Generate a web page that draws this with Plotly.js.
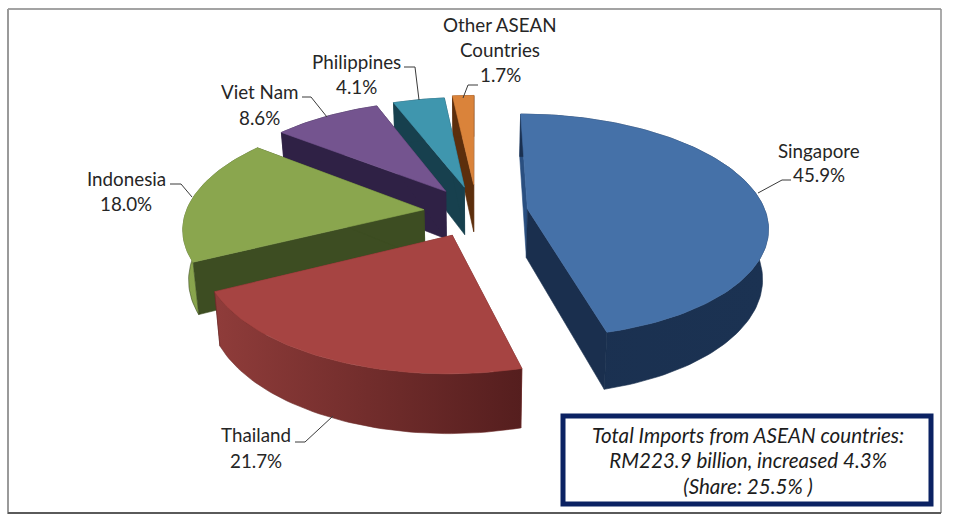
<!DOCTYPE html>
<html>
<head>
<meta charset="utf-8">
<script src="https://cdn.plot.ly/plotly-3.0.1.min.js"></script>
<style>html,body{margin:0;padding:0;background:#fff}#chart{width:960px;height:517px}</style>
</head>
<body>
<div id="chart"></div>
<script>
// ---- data ----
var categories = ['Singapore', 'Thailand', 'Indonesia', 'Viet Nam', 'Philippines', 'Other ASEAN Countries'];
var shares = [45.9, 21.7, 18.0, 8.6, 4.1, 1.7];
var noteLines = ['Total Imports from ASEAN countries:', 'RM223.9 billion, increased 4.3%', '(Share: 25.5% )'];

// ---- styles ----
var topColors = ['#4571a8', '#a64442', '#8aa64e', '#74548f', '#3f96ae', '#da833a'];
var wallColors = ['#1a2f4e', '#6b2a29', '#3d4d22', '#2f2145', '#17404e', '#5c2e0c'];
var arcGradients = [
  ['#1a3050', '#1b3252'], ['#8f3c3a', '#551e1e'], ['#8aa64e', '#7d9845'],
  ['#2f2145', '#2f2145'], ['#17404e', '#17404e'], ['#5c2e0c', '#5c2e0c']
];
var pulls = [0.215, 0.225, 0.21, 0.24, 0.24, 0.26];
var sideNudge = [0.008, 0, -0.006, 0.016, 0.01, 0.008];

// ---- 3D projection settings ----
var cx = 475, cy = 212, rx = 238, ry = 110, persp = 0.15, depth = 50, lowerScale = 0.98;

function project(X, Y, lower) {
  var s = 1 / (1 - persp * Y);
  var px = rx * X * s, py = ry * Y * s;
  if (lower) { px *= lowerScale; py += depth * s * 0.98; }
  return [cx + px, cy + py];
}
function ringPoint(offX, offY, theta, lower) {
  return project(offX + Math.sin(theta), offY - Math.cos(theta), lower);
}
function polyTrace(pts, color, grad) {
  var t = {
    type: 'scatter', mode: 'lines', x: pts.map(function (p) { return p[0]; }), y: pts.map(function (p) { return p[1]; }),
    fill: 'toself', line: { width: 0.6, color: color }, hoverinfo: 'skip', showlegend: false
  };
  if (grad) {
    t.fillcolor = grad[0];
    t.fillgradient = { type: 'horizontal', colorscale: [[0, grad[0]], [1, grad[1]]] };
  } else {
    t.fillcolor = color;
  }
  return t;
}

var total = shares.reduce(function (a, b) { return a + b; }, 0);
var slices = [], cumulative = 0;
shares.forEach(function (v, i) {
  var a0 = cumulative / total * 2 * Math.PI;
  cumulative += v;
  var a1 = cumulative / total * 2 * Math.PI;
  slices.push({ i: i, a0: a0, a1: a1 });
});

var traces = [];
// painter's order: back slices first
[5, 4, 3, 2, 1, 0].forEach(function (i) {
  var sl = slices[i], mid = (sl.a0 + sl.a1) / 2;
  var ox = pulls[i] * Math.sin(mid) + sideNudge[i], oy = -pulls[i] * Math.cos(mid);
  var arcTop = [], arcLow = [], n = Math.max(8, Math.round((sl.a1 - sl.a0) * 40));
  for (var k = 0; k <= n; k++) {
    var th = sl.a0 + (sl.a1 - sl.a0) * k / n;
    arcTop.push(ringPoint(ox, oy, th, false));
    arcLow.push(ringPoint(ox, oy, th, true));
  }
  var apexTop = project(ox, oy, false), apexLow = project(ox, oy, true);
  var col = wallColors[i];
  traces.push(polyTrace([apexTop, arcTop[0], arcLow[0], apexLow, apexTop], i === 0 ? '#2a4f80' : col));
  traces.push(polyTrace([apexTop, arcTop[n], arcLow[n], apexLow, apexTop], col));
  traces.push(polyTrace(arcTop.concat(arcLow.slice().reverse()).concat([arcTop[0]]), col, arcGradients[i]));
  traces.push(polyTrace([apexTop].concat(arcTop).concat([apexTop]), topColors[i]));
});

// ---- labels ----
var labelFont = { family: 'Lato, sans-serif', size: 18.8, color: '#262626' };
var labelLines = [
  [['Singapore'], 819, [150, 174]],
  [['Thailand'], 256, [434, 460]],
  [['Indonesia'], 126, [178, 203]],
  [['Viet Nam'], 259, [91, 117]],
  [['Philippines'], 356, [61, 86]],
  [['Other ASEAN', 'Countries'], 500, [24, 49, 74]]
];
var annotations = [];
labelLines.forEach(function (l, i) {
  var lines = l[0].concat([shares[i].toFixed(1) + '%']);
  lines.forEach(function (txt, j) {
    annotations.push({ x: l[1], y: l[2][j], xref: 'x', yref: 'y', text: txt, showarrow: false,
      xanchor: 'center', yanchor: 'middle', font: labelFont });
  });
});
annotations.push({
  x: 748, y: 460, xref: 'x', yref: 'y', showarrow: false, xanchor: 'center', yanchor: 'middle',
  text: noteLines.map(function (t) { return '<span style="font-size:20.6px"><i>' + t + '</i></span>'; }).join('<br>'),
  font: { family: 'Lato, sans-serif', size: 19.6, color: '#1c1c1c' }
});

function leader(d) {
  return { type: 'path', path: d, xref: 'x', yref: 'y', line: { color: '#3a3a3a', width: 1 } };
}
function edge(x0, y0, x1, y1, color, w) {
  return { type: 'line', x0: x0, y0: y0, x1: x1, y1: y1, xref: 'x', yref: 'y', line: { color: color, width: w } };
}
var shapes = [
  edge(8, 9, 941, 9, '#a3a3a3', 2),
  edge(8, 9, 8, 514, '#9a9a9a', 2),
  edge(941, 9, 941, 513, '#8f8f8f', 1.5),
  edge(8, 513, 941, 513, '#5a5a5a', 2),
  { type: 'rect', x0: 563, y0: 416, x1: 931, y1: 504, xref: 'x', yref: 'y', fillcolor: '#ffffff',
    line: { color: '#0b2263', width: 5 } },
  leader('M758,193 L782,180 L791,180'),
  leader('M333,416 L305,442 L295,442'),
  leader('M170,184 L181,184 L192,197'),
  leader('M302,97 L311,97 L327,117'),
  leader('M404,67 L415,67 L419,100'),
  leader('M463,98 L468,85 L478,85')
];

var layout = {
  width: 960, height: 517, margin: { l: 0, r: 0, t: 0, b: 0 },
  paper_bgcolor: '#ffffff', plot_bgcolor: '#ffffff', showlegend: false, hovermode: false,
  xaxis: { range: [0, 960], visible: false, fixedrange: true },
  yaxis: { range: [517, 0], visible: false, fixedrange: true },
  shapes: shapes, annotations: annotations
};
Plotly.newPlot('chart', traces, layout, { displayModeBar: false, staticPlot: true });
</script>
</body>
</html>
